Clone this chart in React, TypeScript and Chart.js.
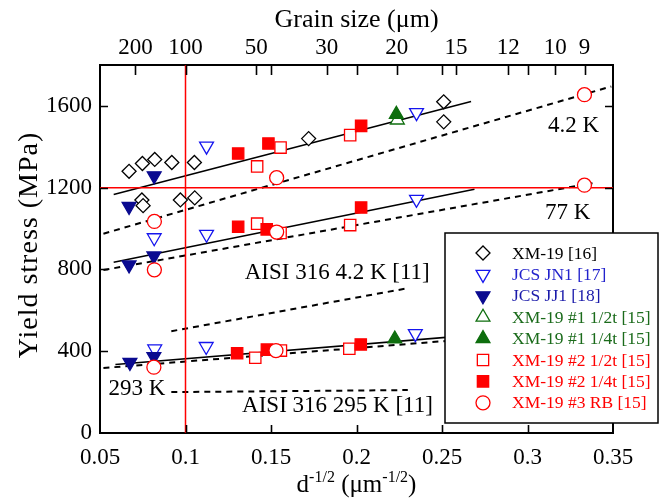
import React, { useEffect, useRef } from "react";
import { Chart, registerables } from "chart.js";

Chart.register(...registerables);

const SERIF = '"Liberation Serif", "Times New Roman", Times, serif';

// ---- axes / ticks ----
const xTicks = [0.05, 0.1, 0.15, 0.2, 0.25, 0.3, 0.35];
const yTicks = [0, 400, 800, 1200, 1600];
const grainSizes = [200, 100, 50, 30, 20, 15, 12, 10, 9];
const grainLabels = ["200", "100", "50", "30", "20", "15", "12", "10", "9"];
const bottomInnerTicks = [0.1, 0.15, 0.2, 0.25, 0.3];
const topExtraTicks = [0.15, 0.2, 0.25, 0.3];
const sideInnerTicks = [400, 800, 1200, 1600];

// ---- series (x = d^-1/2, y = yield stress MPa) ----
const xm19_16 = [
  { x: 0.067, y: 1280 }, { x: 0.0748, y: 1318 }, { x: 0.082, y: 1338 }, { x: 0.092, y: 1323 },
  { x: 0.1052, y: 1323 }, { x: 0.172, y: 1440 }, { x: 0.251, y: 1620 }, { x: 0.251, y: 1522 },
  { x: 0.0745, y: 1140 }, { x: 0.0752, y: 1112 }, { x: 0.097, y: 1140 }, { x: 0.1054, y: 1150 },
];
const jcsJN1 = [
  { x: 0.1123, y: 1403 }, { x: 0.2351, y: 1567 },
  { x: 0.0817, y: 955 }, { x: 0.1123, y: 972 }, { x: 0.2351, y: 1143 },
  { x: 0.082, y: 411 }, { x: 0.1121, y: 423 }, { x: 0.2344, y: 486 },
];
const jcsJJ1 = [
  { x: 0.0817, y: 1258 }, { x: 0.067, y: 1108 },
  { x: 0.0815, y: 866 }, { x: 0.067, y: 822 },
  { x: 0.0675, y: 345 }, { x: 0.0815, y: 373 },
];
const xm19_1_half = [{ x: 0.2239, y: 1531 }];
const xm19_1_quarter = [{ x: 0.2233, y: 1559 }, { x: 0.2224, y: 460 }];
const xm19_2_half = [
  { x: 0.1419, y: 1304 }, { x: 0.1556, y: 1396 }, { x: 0.1963, y: 1457 },
  { x: 0.1419, y: 1024 }, { x: 0.1556, y: 978 }, { x: 0.1963, y: 1017 },
  { x: 0.1408, y: 368 }, { x: 0.1558, y: 403 }, { x: 0.1958, y: 412 },
];
const xm19_2_quarter = [
  { x: 0.1308, y: 1367 }, { x: 0.1485, y: 1416 }, { x: 0.2027, y: 1502 },
  { x: 0.1308, y: 1009 }, { x: 0.1475, y: 996 }, { x: 0.2027, y: 1103 },
  { x: 0.1302, y: 390 }, { x: 0.1476, y: 408 }, { x: 0.2025, y: 433 },
];
const xm19_3_RB = [
  { x: 0.0818, y: 1035 }, { x: 0.1533, y: 1249 }, { x: 0.3333, y: 1655 },
  { x: 0.0818, y: 798 }, { x: 0.1533, y: 983 }, { x: 0.3333, y: 1212 },
  { x: 0.0815, y: 322 }, { x: 0.1529, y: 403 },
];

// ---- trend lines ----
const fit4K = [{ x: 0.058, y: 1167 }, { x: 0.267, y: 1621 }];
const dash4K = [{ x: 0.052, y: 975 }, { x: 0.349, y: 1695 }];
const fit77K = [{ x: 0.058, y: 835 }, { x: 0.269, y: 1192 }];
const dash77K = [{ x: 0.052, y: 797 }, { x: 0.338, y: 1222 }];
const fit293K = [{ x: 0.059, y: 335 }, { x: 0.27, y: 480 }];
const dash293K = [{ x: 0.052, y: 318 }, { x: 0.26, y: 455 }];
const aisi4K = [{ x: 0.0917, y: 498 }, { x: 0.23, y: 708 }];
const aisi295K = [{ x: 0.0917, y: 200 }, { x: 0.23, y: 210 }];
const redHorizontal = [{ x: 0.05, y: 1200 }, { x: 0.35, y: 1200 }];
const redVertical = [{ x: 0.1, y: 0 }, { x: 0.1, y: 1800 }];

// ---- annotation texts ----
const noteTexts = ["4.2 K", "77 K", "AISI 316 4.2 K [11]", "293 K", "AISI 316 295 K [11]"];
const noteX = [0.327, 0.3235, 0.1346, 0.0549, 0.1331];
const noteY = [1502, 1078, 783, 217, 133];
const noteAlign: CanvasTextAlign[] = ["center", "center", "left", "left", "left"];

const seriesLabels = [
  "XM-19 [16]", "JCS JN1 [17]", "JCS JJ1 [18]", "XM-19 #1 1/2t [15]",
  "XM-19 #1 1/4t [15]", "XM-19 #2 1/2t [15]", "XM-19 #2 1/4t [15]", "XM-19 #3 RB [15]",
];
const seriesData = [xm19_16, jcsJN1, jcsJJ1, xm19_1_half, xm19_1_quarter, xm19_2_half, xm19_2_quarter, xm19_3_RB];

type MStyle = { shape: string; rot: number; r: number; fill: string; stroke: string; text: string };
const markerStyles: MStyle[] = [
  { shape: "rectRot", rot: 0, r: 7, fill: "#ffffff", stroke: "#000000", text: "#000000" },
  { shape: "triangle", rot: 180, r: 8, fill: "#ffffff", stroke: "#1515ee", text: "#2222cc" },
  { shape: "triangle", rot: 180, r: 8, fill: "#0a0a90", stroke: "#0a0a90", text: "#1a1aaa" },
  { shape: "triangle", rot: 0, r: 8, fill: "#ffffff", stroke: "#0e6e0e", text: "#1b6b1b" },
  { shape: "triangle", rot: 0, r: 8, fill: "#0e6e0e", stroke: "#0e6e0e", text: "#1b6b1b" },
  { shape: "rect", rot: 0, r: 8, fill: "#ffffff", stroke: "#ff0000", text: "#ff0000" },
  { shape: "rect", rot: 0, r: 8, fill: "#ff0000", stroke: "#ff0000", text: "#ff0000" },
  { shape: "circle", rot: 0, r: 7, fill: "#ffffff", stroke: "#ff0000", text: "#ff0000" },
];

function drawMarker(ctx: CanvasRenderingContext2D, s: MStyle, x: number, y: number) {
  ctx.save();
  ctx.beginPath();
  const r = s.r;
  if (s.shape === "circle") {
    ctx.arc(x, y, r, 0, Math.PI * 2);
  } else if (s.shape === "rect") {
    const h = Math.SQRT1_2 * r;
    ctx.rect(x - h, y - h, 2 * h, 2 * h);
  } else if (s.shape === "rectRot") {
    ctx.moveTo(x - r, y); ctx.lineTo(x, y - r); ctx.lineTo(x + r, y); ctx.lineTo(x, y + r);
    ctx.closePath();
  } else {
    let a = (s.rot * Math.PI) / 180;
    ctx.moveTo(x + Math.sin(a) * r, y - Math.cos(a) * r);
    a += (2 * Math.PI) / 3;
    ctx.lineTo(x + Math.sin(a) * r, y - Math.cos(a) * r);
    a += (2 * Math.PI) / 3;
    ctx.lineTo(x + Math.sin(a) * r, y - Math.cos(a) * r);
    ctx.closePath();
  }
  ctx.fillStyle = s.fill;
  ctx.fill();
  ctx.lineWidth = 1.3;
  ctx.strokeStyle = s.stroke;
  ctx.stroke();
  ctx.restore();
}

const decorPlugin = {
  id: "decor",
  afterDatasetsDraw(chart: any) {
    const { ctx, chartArea, scales } = chart;
    const { left, right, top, bottom } = chartArea;
    const sx = scales.x, sy = scales.y;
    ctx.save();
    ctx.strokeStyle = "#000";
    ctx.lineWidth = 1.6;
    ctx.beginPath();
    bottomInnerTicks.forEach((v) => {
      const p = Math.round(sx.getPixelForValue(v)) + 0.5;
      ctx.moveTo(p, bottom); ctx.lineTo(p, bottom - 8);
    });
    [...grainSizes.map((d) => 1 / Math.sqrt(d)), ...topExtraTicks].forEach((v) => {
      const p = Math.round(sx.getPixelForValue(v)) + 0.5;
      ctx.moveTo(p, top); ctx.lineTo(p, top + 10);
    });
    sideInnerTicks.forEach((v) => {
      const p = Math.round(sy.getPixelForValue(v)) + 0.5;
      ctx.moveTo(left, p); ctx.lineTo(left + 8, p);
      ctx.moveTo(right, p); ctx.lineTo(right - 8, p);
    });
    ctx.stroke();

    ctx.fillStyle = "#000";
    ctx.font = `23px ${SERIF}`;
    ctx.textBaseline = "middle";
    noteTexts.forEach((t, i) => {
      ctx.textAlign = noteAlign[i];
      ctx.fillText(t, sx.getPixelForValue(noteX[i]), sy.getPixelForValue(noteY[i]));
    });
    ctx.restore();
  },
  afterDraw(chart: any) {
    const { ctx, chartArea } = chart;
    const { left, right, top, bottom } = chartArea;
    ctx.save();
    const lx = 445, ly = 233, lw = 213, lh = 190;
    ctx.fillStyle = "#fff";
    ctx.fillRect(lx, ly, lw, lh);
    ctx.strokeStyle = "#000";
    ctx.lineWidth = 1.5;
    ctx.strokeRect(lx, ly, lw, lh);
    ctx.font = `17.5px ${SERIF}`;
    ctx.textBaseline = "middle";
    ctx.textAlign = "left";
    seriesLabels.forEach((lab, i) => {
      const yy = ly + 20 + i * 21.4;
      drawMarker(ctx, markerStyles[i], lx + 38, yy);
      ctx.fillStyle = markerStyles[i].text;
      ctx.fillText(lab, lx + 67, yy + 1);
    });

    ctx.fillStyle = "#000";
    ctx.textAlign = "center";
    ctx.textBaseline = "alphabetic";
    ctx.font = `26px ${SERIF}`;
    const cx = (left + right) / 2;
    ctx.fillText("Grain size (\u03bcm)", cx, 27);

    ctx.save();
    ctx.translate(37, (top + bottom) / 2 - 4);
    ctx.rotate(-Math.PI / 2);
    ctx.font = `28px ${SERIF}`;
    try { (ctx as any).letterSpacing = "1px"; } catch (e) { /* ignore */ }
    ctx.fillText("Yield stress (MPa)", 0, 0);
    try { (ctx as any).letterSpacing = "0px"; } catch (e) { /* ignore */ }
    ctx.restore();

    const parts = [
      { t: "d", sup: false }, { t: "-1/2", sup: true }, { t: " (\u03bcm", sup: false },
      { t: "-1/2", sup: true }, { t: ")", sup: false },
    ];
    const mainF = `25px ${SERIF}`, supF = `16px ${SERIF}`;
    let total = 0;
    parts.forEach((p) => { ctx.font = p.sup ? supF : mainF; total += ctx.measureText(p.t).width; });
    let xx = cx - total / 2;
    ctx.textAlign = "left";
    const base = 492;
    parts.forEach((p) => {
      ctx.font = p.sup ? supF : mainF;
      ctx.fillText(p.t, xx, p.sup ? base - 10 : base);
      xx += ctx.measureText(p.t).width;
    });
    ctx.restore();
  },
};

function fmt(v: number) {
  return String(Number(v.toFixed(2)));
}

export default function App() {
  const ref = useRef<HTMLCanvasElement | null>(null);
  useEffect(() => {
    if (!ref.current) return;
    const lineDs = (data: any[], color: string, width: number, dash: number[]) => ({
      type: "line" as const,
      data,
      showLine: true,
      borderColor: color,
      borderWidth: width,
      borderDash: dash,
      pointRadius: 0,
      fill: false,
      order: 50,
    });
    const markerDs = seriesData.map((d, i) => {
      const s = markerStyles[i];
      return {
        type: "scatter" as const,
        label: seriesLabels[i],
        data: d,
        pointStyle: s.shape,
        pointRotation: s.rot,
        pointRadius: s.r,
        pointBackgroundColor: s.fill,
        pointBorderColor: s.stroke,
        pointBorderWidth: 1.3,
        showLine: false,
        order: 10 - i,
      };
    });
    const tickFont = { family: SERIF, size: 23 };
    const chart = new Chart(ref.current, {
      type: "scatter",
      data: {
        datasets: [
          lineDs(redHorizontal, "#ff0000", 1.5, []),
          lineDs(redVertical, "#ff0000", 1.5, []),
          lineDs(fit4K, "#000", 1.6, []),
          lineDs(dash4K, "#000", 2, [6, 5]),
          lineDs(fit77K, "#000", 1.6, []),
          lineDs(dash77K, "#000", 2, [6, 5]),
          lineDs(fit293K, "#000", 1.6, []),
          lineDs(dash293K, "#000", 2, [6, 5]),
          lineDs(aisi4K, "#000", 2, [6, 5]),
          lineDs(aisi295K, "#000", 2, [6, 5]),
          ...markerDs,
        ] as any,
      },
      options: {
        responsive: false,
        animation: false,
        devicePixelRatio: 1,
        layout: { padding: 0 },
        plugins: { legend: { display: false }, tooltip: { enabled: false } },
        scales: {
          x: {
            type: "linear", position: "bottom", min: 0.05, max: 0.35,
            afterBuildTicks: (s: any) => { s.ticks = xTicks.map((v) => ({ value: v })); },
            afterFit: (s: any) => { s.height = 69; },
            ticks: { callback: (v: any) => fmt(Number(v)), font: tickFont, color: "#000", padding: 11, maxRotation: 0, autoSkip: false },
            grid: { display: false, drawTicks: false },
            border: { display: true, color: "#000", width: 2 },
          },
          x2: {
            type: "linear", position: "top", min: 0.05, max: 0.35,
            afterBuildTicks: (s: any) => { s.ticks = grainSizes.map((d) => ({ value: 1 / Math.sqrt(d) })); },
            afterFit: (s: any) => { s.height = 65; },
            ticks: { callback: (_v: any, i: number) => grainLabels[i], font: tickFont, color: "#000", padding: 3, maxRotation: 0, autoSkip: false },
            grid: { display: false, drawTicks: false },
            border: { display: true, color: "#000", width: 2 },
          },
          y: {
            type: "linear", position: "left", min: 0, max: 1800,
            afterBuildTicks: (s: any) => { s.ticks = yTicks.map((v) => ({ value: v })); },
            afterFit: (s: any) => { s.width = 100; },
            ticks: { callback: (v: any) => String(v), font: tickFont, color: "#000", padding: 8, autoSkip: false },
            grid: { display: false, drawTicks: false },
            border: { display: true, color: "#000", width: 2 },
          },
          y2: {
            type: "linear", position: "right", min: 0, max: 1800,
            afterFit: (s: any) => { s.width = 53; },
            ticks: { display: false },
            grid: { display: false, drawTicks: false },
            border: { display: true, color: "#000", width: 2 },
          },
        },
      } as any,
      plugins: [decorPlugin],
    });
    let alive = true;
    const redraw = () => { if (alive) chart.update("none"); };
    const fontsApi: any = (document as any).fonts;
    if (fontsApi && fontsApi.load) {
      Promise.all([
        fontsApi.load(`23px "Liberation Serif"`),
        fontsApi.load(`26px "Liberation Serif"`),
      ]).then(redraw, redraw);
    }
    const t = setTimeout(redraw, 300);
    return () => { alive = false; clearTimeout(t); chart.destroy(); };
  }, []);
  return (
    <div style={{ position: "absolute", left: 0, top: 0, width: 666, height: 502, background: "#fff", fontFamily: SERIF }}>
      <canvas ref={ref} width={666} height={502} style={{ width: 666, height: 502, display: "block" }} />
    </div>
  );
}
